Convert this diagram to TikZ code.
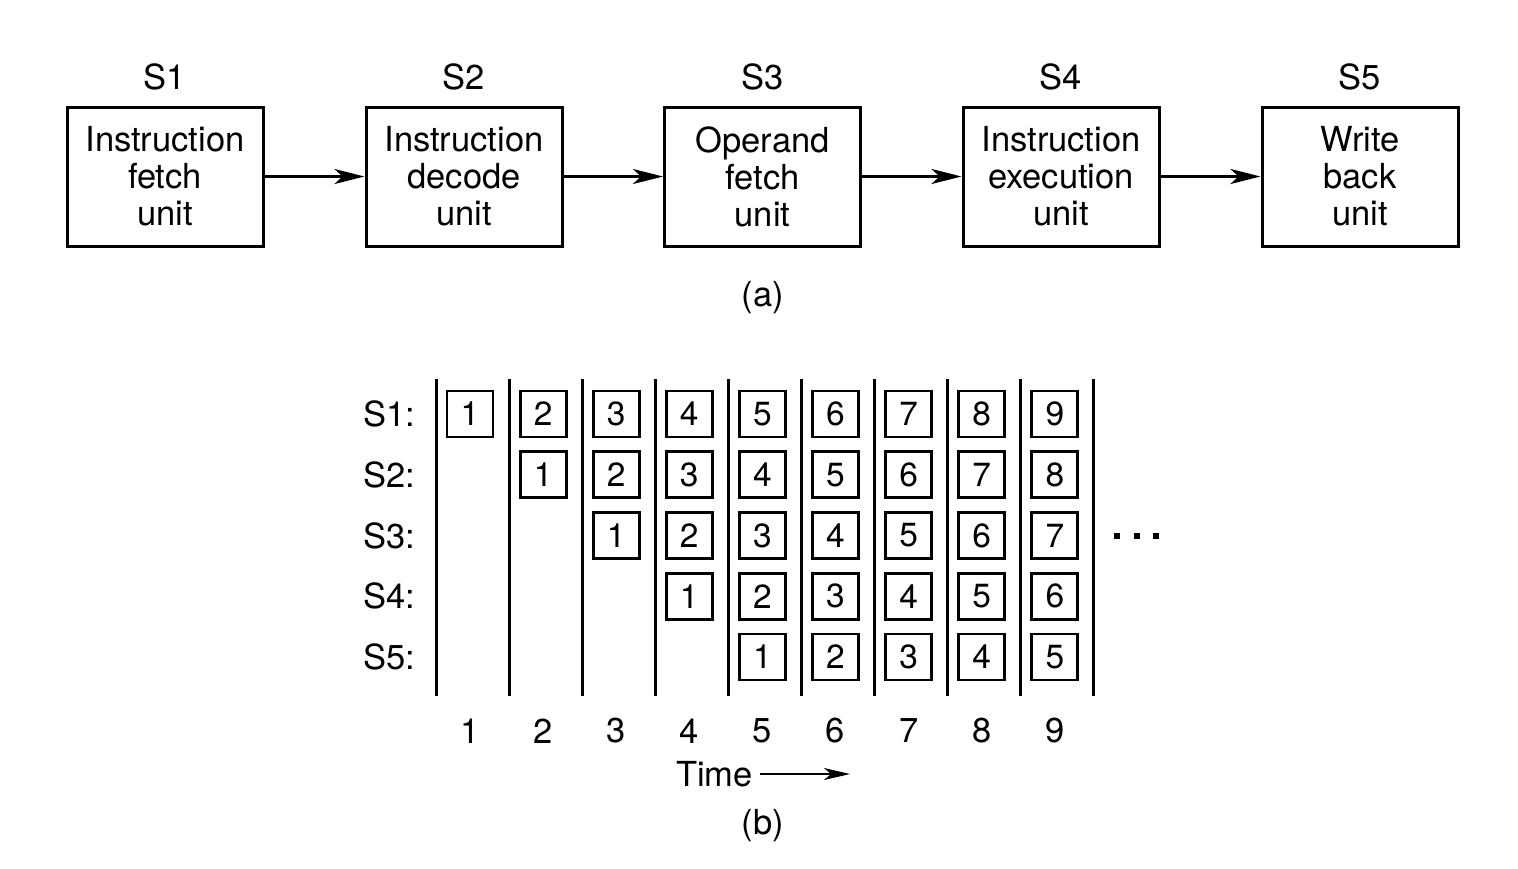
\documentclass[tikz,border=0pt]{standalone}
\usepackage{fontspec}
\setmainfont{TeX Gyre Heros}
\usetikzlibrary{arrows.meta}
\begin{document}
\begin{tikzpicture}[x=1pt,y=-1pt,
 unitbox/.style={draw,line width=3pt,minimum width=196pt,minimum height=139pt,align=center,font=\fontsize{34.5}{37}\selectfont,inner sep=0pt},
 lbl/.style={font=\fontsize{34.5}{37}\selectfont,inner sep=0pt},
 cell/.style={draw,line width=2.8pt,minimum width=46pt,minimum height=46pt,inner sep=0pt,font=\fontsize{33.5}{33.5}\selectfont},
 flow/.style={line width=2.8pt,-{Stealth[length=30pt,width=15pt,inset=8pt]}},
 timeflow/.style={line width=2.4pt,-{Stealth[length=26pt,width=12pt,inset=7pt]}},
 sep/.style={line width=3pt},
]
\useasboundingbox (0,0) rectangle (1518,868);
% (a)
\node[unitbox] (u1) at (165,176.5) {Instruction\\fetch\\unit};
\node[unitbox] (u2) at (464,176.5) {Instruction\\decode\\unit};
\node[unitbox] (u3) at (762.5,176.5) {Operand\\fetch\\unit};
\node[unitbox] (u4) at (1061,176.5) {Instruction\\execution\\unit};
\node[unitbox] (u5) at (1360,176.5) {Write\\back\\unit};
\foreach \i/\x in {1/165,2/464,3/762.5,4/1061,5/1360}
  \node[lbl] (s\i) at (\x,77) {S\i};
\draw[flow] (u1) -- (u2);
\draw[flow] (u2) -- (u3);
\draw[flow] (u3) -- (u4);
\draw[flow] (u4) -- (u5);
\node[lbl] (capa) at (763,298) {(a)};
% (b)
\foreach \k in {1,...,10}
  \draw[sep] ({436+(\k-1)*73.1},379) -- ({436+(\k-1)*73.1},696);
\foreach \r in {1,...,5}
  \node[lbl,anchor=east] (row\r) at (415,{414+(\r-1)*60.75}) {S\r:};
\foreach \c in {1,...,9} {
  \node[lbl] (n\c) at ({470+(\c-1)*73.1},731) {\c};
  \foreach \r in {1,...,5} {
    \pgfmathtruncatemacro{\v}{\c-\r+1}
    \ifnum\v>0
      \node[cell] (b\c-\r) at ({470+(\c-1)*73.1},{414+(\r-1)*60.75}) {\v};
    \fi
  }
}
\foreach \x in {1117,1137,1156}
  \fill (\x,536) +(-3,-3) rectangle +(3,3);
\node[lbl,anchor=east] (time) at (753,774) {Time};
\coordinate (tend) at (850,774);
\draw[timeflow] ([xshift=7pt]time.east) -- (tend);
\node[lbl] (capb) at (763,826) {(b)};
\end{tikzpicture}
\end{document}
